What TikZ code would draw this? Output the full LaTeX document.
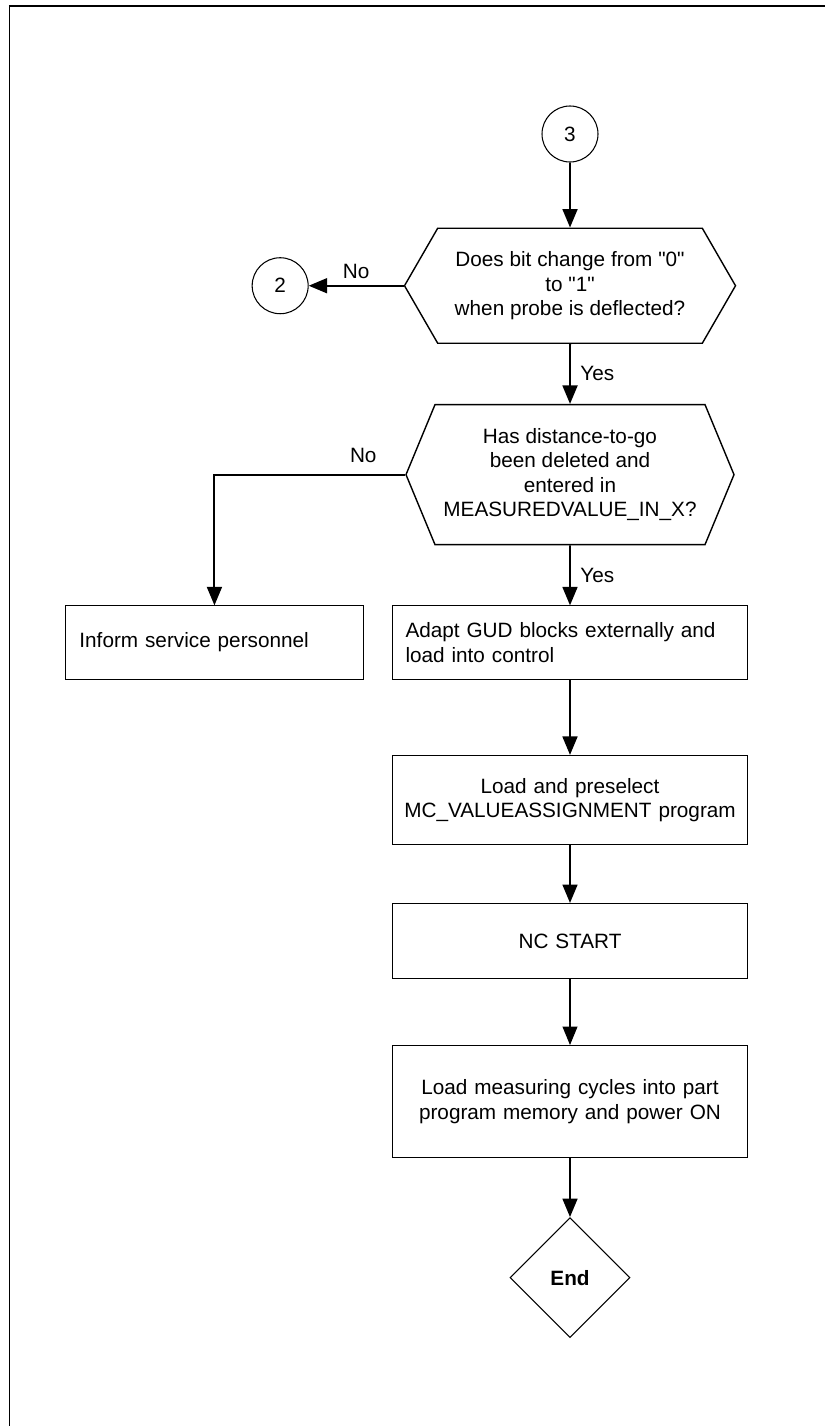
\documentclass[tikz,border=0pt]{standalone}
\usepackage{fontspec}
\setmainfont{Liberation Sans}
\usetikzlibrary{shapes.geometric, shapes.symbols, positioning, arrows.meta}
\newcommand{\qt}[1]{\textquotedbl#1\textquotedbl}
\tikzset{
  connector/.style={circle, draw, line width=0.6pt, minimum size=1.12cm, inner sep=0pt},
  process/.style  ={rectangle, draw, line width=0.6pt, minimum height=1.47cm,
    text width=6.58cm, inner xsep=0.26cm, align=center},
  decision/.style ={signal, signal to=east and west, draw, line width=0.8pt,
    signal pointer angle=#1, align=center, inner sep=0pt},
  terminal/.style ={diamond, draw, line width=0.6pt, minimum size=2.4cm,
    inner sep=0pt, font=\fontsize{11.8}{13.8}\selectfont\bfseries},
  arrow/.style={line width=1.1pt, -{Triangle[length=10.5pt, width=8.5pt]}},
  thinarrow/.style={arrow, line width=0.6pt},
}

\begin{document}
\begin{tikzpicture}[font=\fontsize{11.8}{13.8}\selectfont]
  \useasboundingbox (0,0) rectangle (16.5,-28.52);
  % sheet frame, only top and left edges
  \draw[line width=1.1pt] (0.18,-0.12) -- (16.5,-0.12);
  \draw[line width=0.8pt] (0.19,-0.12) -- (0.19,-28.52);

  \node[connector] (c3) at (11.4,-2.68) {3};
  \node[decision=120, minimum width=6.62cm, minimum height=2.3cm,
        below=1.3cm of c3] (bitcheck)
        {Does bit change from \qt{0}\\ to \qt{1}\\ when probe is deflected?};
  \node[connector, left=1.9cm of bitcheck] (c2) {2};
  \node[decision=135, minimum width=6.56cm, minimum height=2.8cm,
        below=1.2cm of bitcheck] (dtgcheck)
        {Has distance-to-go\\ been deleted and\\ entered in\\ MEASUREDVALUE\_IN\_X?};
  \node[process, align=left, below=1.2cm of dtgcheck] (adapt)
        {Adapt GUD blocks externally and\\ load into control};
  \node[process, align=left, text width=5.4cm, inner xsep=0.28cm,
        left=0.56cm of adapt] (inform) {Inform service personnel};
  \node[process, minimum height=1.78cm, text width=7cm, inner xsep=0.05cm,
        below=1.5cm of adapt] (preselect)
        {Load and preselect\\ MC\_VALUEASSIGNMENT program};
  \node[process, minimum height=1.5cm, below=1.16cm of preselect] (ncstart) {NC START};
  \node[process, minimum height=2.24cm, below=1.32cm of ncstart] (cycles)
        {Load measuring cycles into part\\ program memory and power ON};
  \node[terminal, below=1.18cm of cycles] (finish) {End};

  \draw[arrow] (c3) -- (bitcheck);
  \draw[arrow] (bitcheck.west) -- node[above] {No} (c2);
  \draw[arrow] (bitcheck) -- node[right=2pt] {Yes} (dtgcheck);
  % No branch goes round to the left column
  \draw[arrow] (dtgcheck.west) -| node[pos=0.11, above=3pt] {No} (inform.north);
  \draw[arrow] (dtgcheck) -- node[right=2pt] {Yes} (adapt);
  \draw[arrow] (adapt) -- (preselect);
  \draw[arrow] (preselect) -- (ncstart);
  \draw[thinarrow] (ncstart) -- (cycles);
  \draw[arrow] (cycles) -- (finish);
\end{tikzpicture}
\end{document}
